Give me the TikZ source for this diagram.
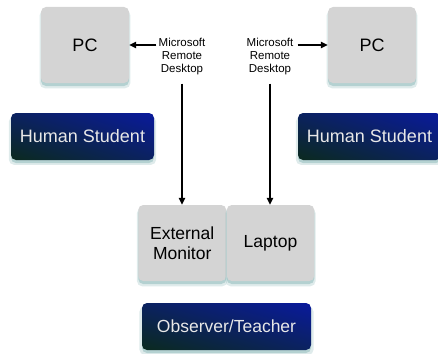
\documentclass[tikz,border=0pt]{standalone}
\usepackage{fontspec}
\setmainfont{Liberation Sans}
\usetikzlibrary{arrows.meta,shadows,shadings,calc}
\definecolor{boxgray}{HTML}{D4D4D4}
\definecolor{shcol}{HTML}{7FB0B0}
\definecolor{dkgreen}{HTML}{0B2A1E}
\definecolor{dkblue}{HTML}{0A1A9C}
\definecolor{midblue}{HTML}{0B2260}
\definecolor{txtlight}{HTML}{E8E8E8}
\tikzset{
  softshadow/.style={
    drop shadow={shadow xshift=0pt, shadow yshift=-4pt, shadow scale=1.03, fill=shcol, opacity=.25},
    drop shadow={shadow xshift=0pt, shadow yshift=-3pt, fill=shcol, opacity=.45}},
  graybox/.style={softshadow, rectangle, rounded corners=5pt, fill=boxgray,
    inner sep=0pt, align=center, font=\fontsize{18}{21}\selectfont, text=black},
  bluebox/.style={softshadow, rectangle, rounded corners=5pt,
    lower left=dkgreen, upper right=dkblue, upper left=midblue, lower right=midblue,
    inner sep=0pt, text=txtlight, font=\fontsize{18}{21}\selectfont},
  mslabel/.style={align=center, inner xsep=2pt, inner ysep=8pt,
    font=\fontsize{11.5}{13}\selectfont},
  conn/.style={line width=1.1pt, -{Triangle[length=7pt,width=6.5pt]}},
}
\begin{document}
\begin{tikzpicture}[x=1pt,y=1pt]
\useasboundingbox (0,0) rectangle (438,-353);
\node[graybox, minimum width=88pt, minimum height=76pt] (pcL) at (85,-45) {PC};
\node[graybox, minimum width=88pt, minimum height=76pt] (pcR) at (372,-45) {PC};
\node[mslabel] (msL) at (182,-57) {Microsoft\\Remote\\Desktop};
\node[mslabel, inner xsep=4pt] (msR) at (270,-57) {Microsoft\\Remote\\Desktop};
\node[bluebox, minimum width=143pt, minimum height=47pt] (hsL) at (82.5,-136.5) {Human Student};
\node[bluebox, minimum width=143pt, minimum height=47pt] (hsR) at (369.5,-136.5) {Human Student};
\node[graybox, minimum width=88pt, minimum height=76pt, font=\fontsize{17.5}{20}\selectfont] (ext) at (182.25,-243) {External\\Monitor};
\node[graybox, minimum width=87.5pt, minimum height=76pt, font=\fontsize{17.5}{20}\selectfont] (lap) at (270.5,-243) {Laptop};
\node[bluebox, minimum width=169pt, minimum height=47pt, font=\fontsize{17.5}{21}\selectfont] (obs) at (226.5,-326.5) {Observer/Teacher};
\draw[conn] (msL.west |- pcL.east) -- (pcL.east);
\draw[conn] (msR.east |- pcR.west) -- (pcR.west);
\draw[conn] (msL.south) -- (msL.south |- ext.north);
\draw[conn] (msR.south) -- (msR.south |- lap.north);
\end{tikzpicture}
\end{document}
